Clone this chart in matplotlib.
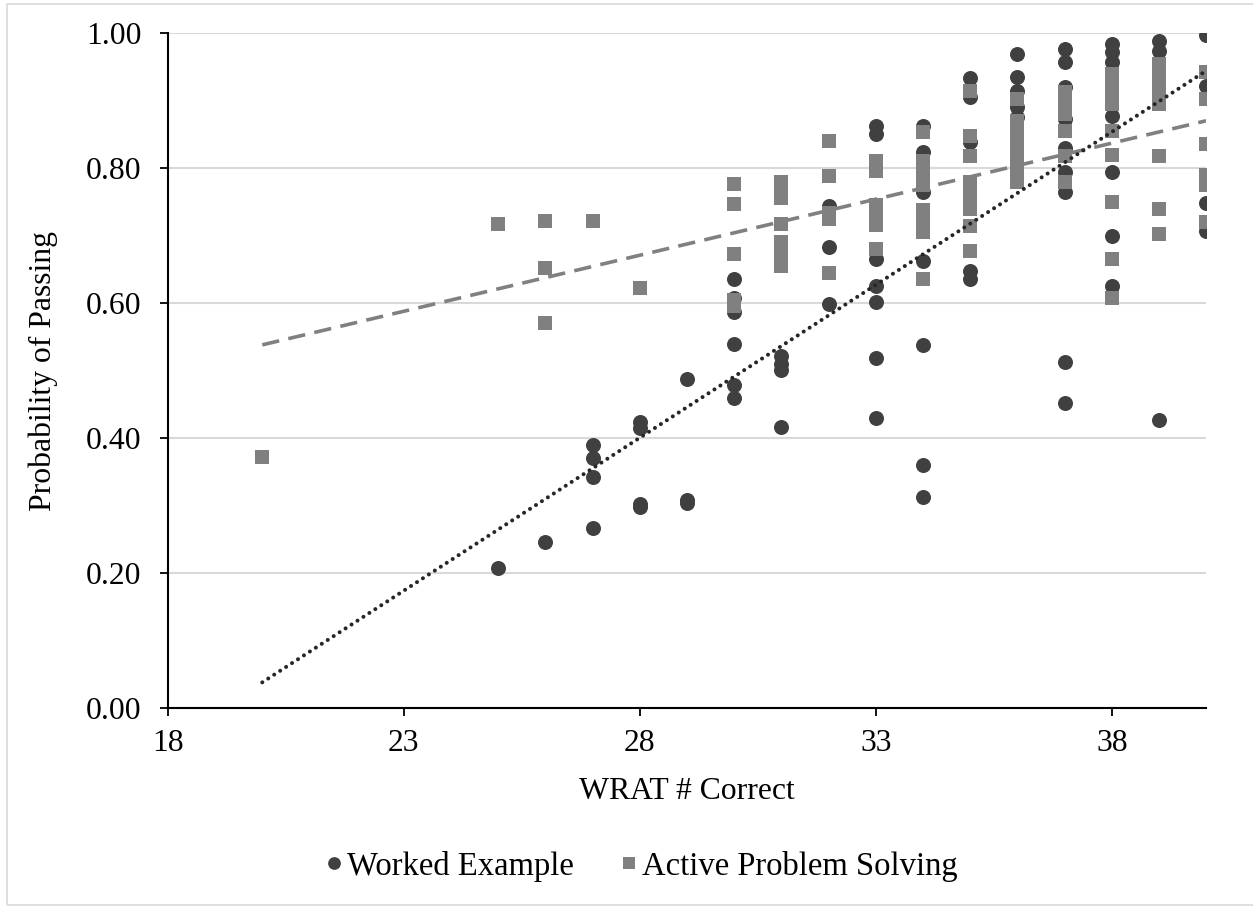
import matplotlib.pyplot as plt
from matplotlib.patches import Rectangle

# Worked Example (circles): x = WRAT # correct, y = probability of passing
we_x = [25, 26, 27, 27, 27, 27, 28, 28, 28, 28, 29, 29, 29,
        30, 30, 30, 30, 30, 30, 31, 31, 31, 31, 32, 32, 32,
        33, 33, 33, 33, 33, 33, 33, 34, 34, 34, 34, 34, 34, 34,
        35, 35, 35, 35, 35, 36, 36, 36, 36, 36,
        37, 37, 37, 37, 37, 37, 37, 37, 37,
        38, 38, 38, 38, 38, 38, 38, 39, 39, 39, 40, 40, 40, 40]
we_y = [0.208, 0.246, 0.389, 0.370, 0.342, 0.267, 0.424, 0.415, 0.302, 0.298,
        0.487, 0.308, 0.303,
        0.635, 0.607, 0.586, 0.540, 0.478, 0.460, 0.521, 0.510, 0.501, 0.417,
        0.743, 0.683, 0.598,
        0.862, 0.850, 0.665, 0.625, 0.602, 0.518, 0.430,
        0.862, 0.823, 0.764, 0.662, 0.538, 0.360, 0.313,
        0.934, 0.905, 0.838, 0.647, 0.636, 0.969, 0.935, 0.914, 0.890, 0.875,
        0.976, 0.957, 0.920, 0.872, 0.830, 0.794, 0.764, 0.512, 0.452,
        0.984, 0.972, 0.957, 0.877, 0.794, 0.699, 0.625,
        0.988, 0.973, 0.426, 0.997, 0.922, 0.748, 0.706]

# Active Problem Solving (squares)
aps_x = [20, 25, 26, 26, 26, 27, 28,
         30, 30, 30, 30, 30, 31, 31, 31, 31, 31, 31, 31,
         32, 32, 32, 32, 32, 33, 33, 33, 33, 33, 33,
         34, 34, 34, 34, 34, 34, 34, 34, 35, 35, 35, 35, 35, 35, 35, 35,
         36, 36, 36, 36, 36, 36, 36, 36, 37, 37, 37, 37, 37, 37,
         38, 38, 38, 38, 38, 38, 38, 38, 38, 39, 39, 39, 39, 39, 39, 39,
         40, 40, 40, 40, 40, 40]
aps_y = [0.372, 0.717, 0.722, 0.652, 0.571, 0.721, 0.622,
         0.776, 0.746, 0.672, 0.605, 0.595,
         0.780, 0.768, 0.755, 0.717, 0.690, 0.672, 0.655,
         0.840, 0.788, 0.734, 0.724, 0.645,
         0.810, 0.795, 0.745, 0.730, 0.715, 0.680,
         0.853, 0.810, 0.790, 0.775, 0.738, 0.720, 0.705, 0.635,
         0.914, 0.847, 0.818, 0.780, 0.758, 0.740, 0.714, 0.677,
         0.902, 0.870, 0.855, 0.840, 0.828, 0.810, 0.795, 0.780,
         0.912, 0.895, 0.880, 0.855, 0.818, 0.780,
         0.940, 0.925, 0.910, 0.895, 0.855, 0.820, 0.749, 0.665, 0.608,
         0.954, 0.935, 0.915, 0.895, 0.818, 0.739, 0.702,
         0.942, 0.902, 0.835, 0.790, 0.775, 0.720]

# trendline end points
trend_x = [20, 40]
trend_we = [0.038, 0.944]
trend_aps = [0.538, 0.870]

x_ticks = [18, 23, 28, 33, 38]
y_ticks = [0.0, 0.2, 0.4, 0.6, 0.8, 1.0]

plt.rcParams['font.family'] = ['Liberation Serif', 'DejaVu Serif']
FS = 22.8

fig = plt.figure(figsize=(12.53, 9.07), dpi=100)
ax = fig.add_axes([0.134, 0.2194, 0.8286, 0.7442])

ax.grid(axis='y', color='#d9d9d9', linewidth=1.5, zorder=0)
ax.set_axisbelow(True)

ax.plot(we_x, we_y, 'o', color='#404040', markersize=10.8,
        markeredgewidth=0, label='Worked Example', zorder=3)
ax.plot(aps_x, aps_y, 's', color='#808080', markersize=10.5,
        markeredgewidth=0, label='Active Problem Solving', zorder=4)

ax.plot(trend_x, trend_aps, color='#808080', linewidth=2.6,
        linestyle=(0, (4.8, 2.6)), zorder=5)
ax.plot(trend_x, trend_we, color='#262626', linewidth=2.9,
        linestyle=(0, (0.01, 1.75)), dash_capstyle='round', zorder=5)

ax.set_xlim(18, 40)
ax.set_ylim(0, 1)
ax.set_xticks(x_ticks)
ax.set_yticks(y_ticks)
ax.set_yticklabels([f"{v:.2f}" for v in y_ticks])
ax.tick_params(labelsize=FS, length=6, width=1.3, direction='out')
ax.tick_params(axis='y', pad=13)
ax.tick_params(axis='x', pad=9)

for s in ['top', 'right']:
    ax.spines[s].set_visible(False)
for s in ['left', 'bottom']:
    ax.spines[s].set_linewidth(1.5)
    ax.spines[s].set_color('black')

ax.set_xlabel("WRAT # Correct", fontsize=FS, labelpad=14)
ax.set_ylabel("Probability of Passing", fontsize=FS, labelpad=20)

fig.legend(loc='center', bbox_to_anchor=(0.51, 0.045), ncol=2, frameon=False,
           fontsize=FS + 0.7, handletextpad=0.0, columnspacing=1.3,
           markerscale=0.85, handlelength=0.8)

# light outer chart border
fig.patches.append(Rectangle((7 / 1253, 2 / 907), 1.2, 901 / 907,
                             transform=fig.transFigure, fill=False,
                             edgecolor='#d9d9d9', linewidth=1.2))

plt.savefig("out.png", dpi=100)
